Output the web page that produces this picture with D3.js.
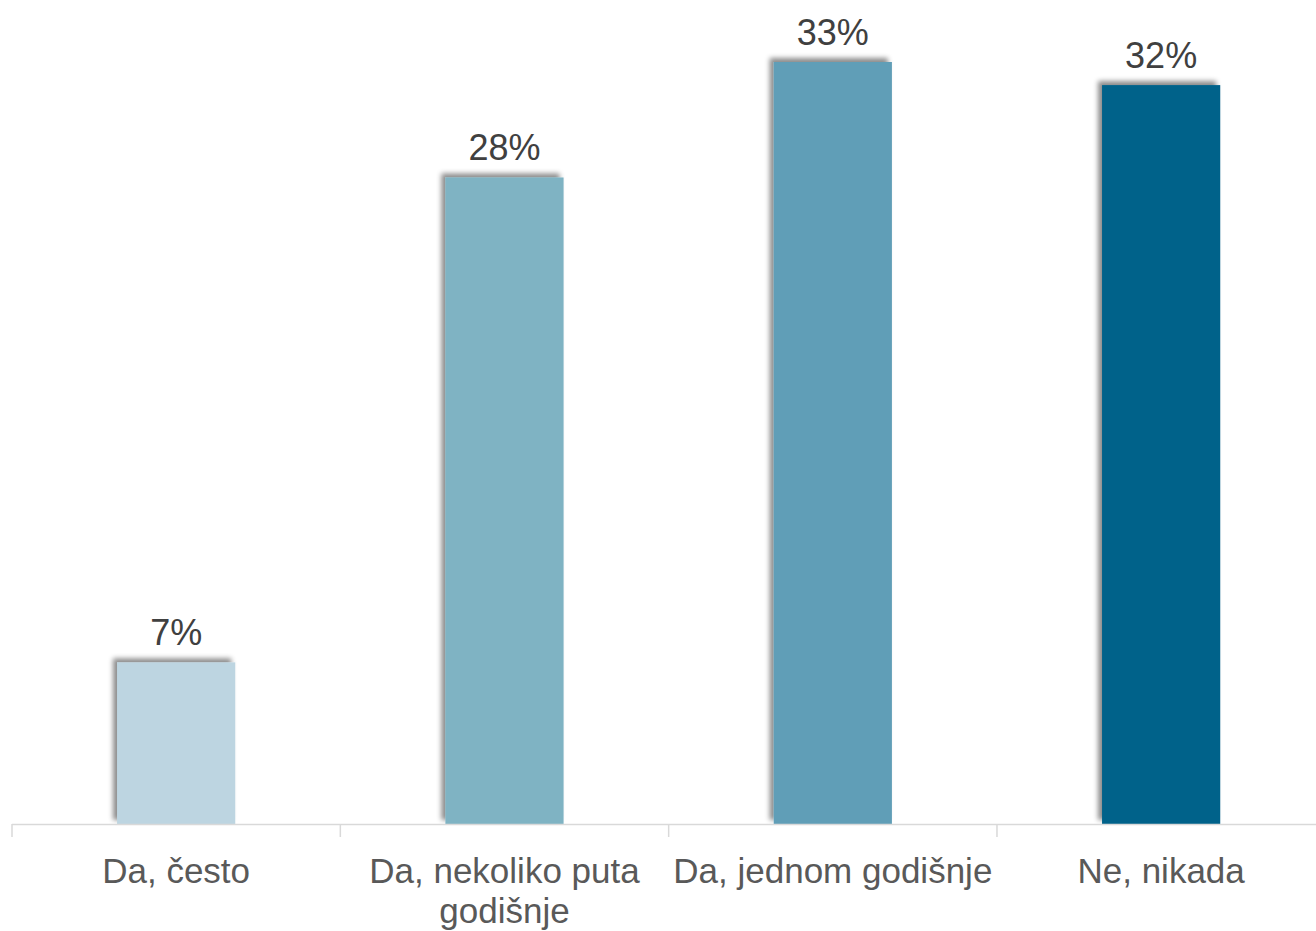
<!DOCTYPE html>
<html>
<head>
<meta charset="utf-8">
<script src="https://cdn.jsdelivr.net/npm/d3@7"></script>
<style>
html,body{margin:0;padding:0;background:#fff;}
svg{display:block;}
</style>
</head>
<body>
<svg id="chart" width="1316" height="931"></svg>
<script>
const categories = [["Da, često"], ["Da, nekoliko puta", "godišnje"], ["Da, jednom godišnje"], ["Ne, nikada"]];
const values = [7, 28, 33, 32];
const colors = ["#BDD5E1", "#7FB3C3", "#619EB7", "#05628A"];

const svg = d3.select("#chart");
const W = 1316, H = 931;
const baseY = 824;
const keys = categories.map(c => c.join(" "));

const x = d3.scaleBand().domain(keys).range([12, 1325.3]).paddingInner(0.64).paddingOuter(0.32);
const y = d3.scaleLinear().domain([0, 33]).range([baseY, 62]);

const defs = svg.append("defs");
const f = defs.append("filter").attr("id", "sh").attr("x", "-20%").attr("y", "-20%").attr("width", "140%").attr("height", "140%");
f.append("feDropShadow").attr("dx", -4).attr("dy", -4).attr("stdDeviation", 2.5)
  .attr("flood-color", "#000").attr("flood-opacity", 0.45);

const data = keys.map((k, i) => ({k, v: values[i], c: colors[i], lines: categories[i]}));

svg.append("g").selectAll("rect").data(data).join("rect")
  .attr("x", d => x(d.k))
  .attr("y", d => y(d.v))
  .attr("width", x.bandwidth())
  .attr("height", d => baseY - y(d.v))
  .attr("fill", d => d.c)
  .attr("filter", "url(#sh)");

// axis
const axis = d3.axisBottom(x).tickSize(0).tickFormat("");
const ag = svg.append("g").attr("transform", `translate(0,${baseY})`).call(axis);
ag.select(".domain").attr("stroke", "#d9d9d9").attr("stroke-width", 1.5).attr("d", `M12,0.5H1316`);
// boundary ticks
const bounds = keys.map(k => x(k) - x.step() * x.paddingInner() / 2 ).map((v,i)=> i===0 ? 12 : v);
ag.selectAll(".bt").data(bounds).join("line").attr("class", "bt")
  .attr("x1", d => d).attr("x2", d => d).attr("y1", 0).attr("y2", 13)
  .attr("stroke", "#d9d9d9").attr("stroke-width", 1.5);

// category labels
const lbl = svg.append("g").selectAll("text").data(data).join("text")
  .attr("x", d => x(d.k) + x.bandwidth() / 2)
  .attr("y", 883)
  .attr("text-anchor", "middle")
  .attr("font-family", "'Liberation Sans', Arial, sans-serif")
  .attr("font-size", 35)
  .attr("fill", "#595959");
lbl.selectAll("tspan").data(d => d.lines.map(t => ({t, cx: x(d.k) + x.bandwidth() / 2}))).join("tspan")
  .attr("x", d => d.cx)
  .attr("dy", (d, i) => i === 0 ? 0 : 40)
  .text(d => d.t);

// value labels
svg.append("g").selectAll("text").data(data).join("text")
  .attr("x", d => x(d.k) + x.bandwidth() / 2)
  .attr("y", d => y(d.v) - 17)
  .attr("text-anchor", "middle")
  .attr("font-family", "'Liberation Sans', Arial, sans-serif")
  .attr("font-size", 36)
  .attr("fill", "#404040")
  .text(d => d.v + "%");
</script>
</body>
</html>
